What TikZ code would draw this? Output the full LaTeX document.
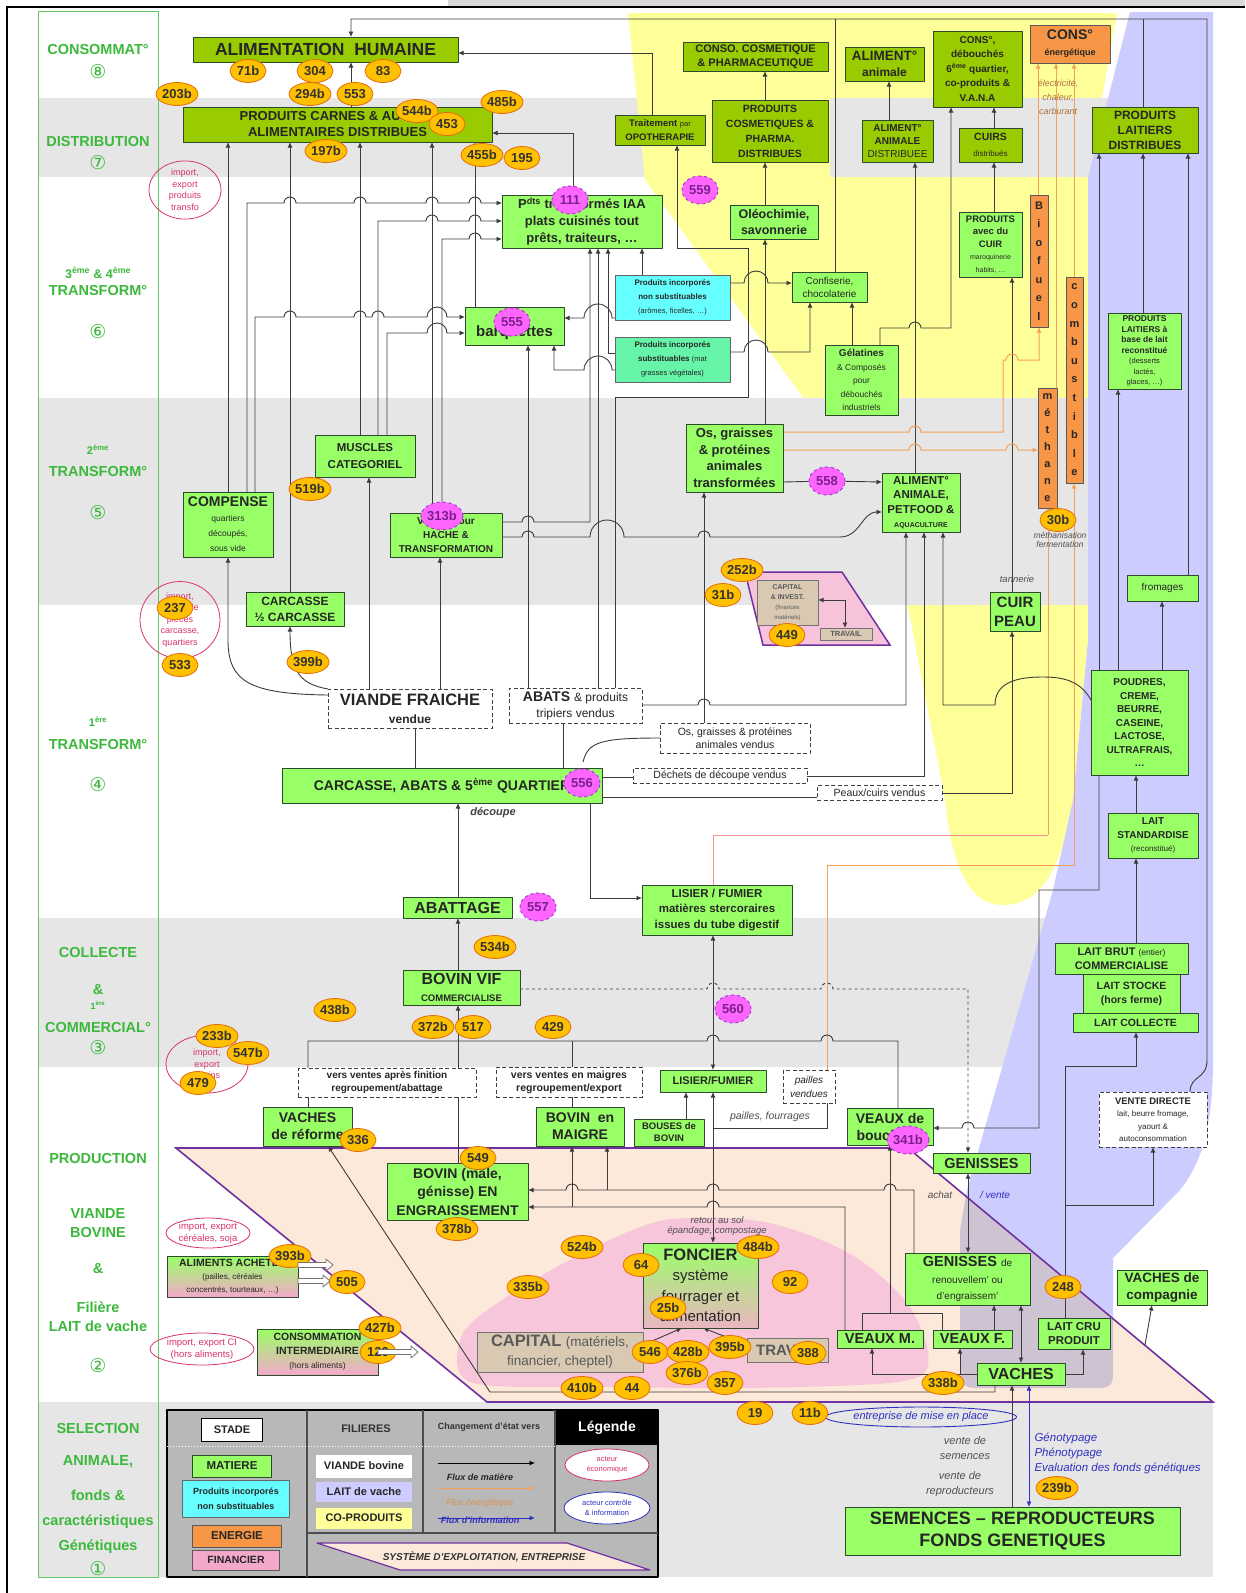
\documentclass[tikz,border=0pt]{standalone}
\usepackage{fontspec}
\setmainfont{Liberation Sans}
\newfontfamily\symfont{DejaVu Sans}
\usetikzlibrary{arrows.meta,shapes.geometric}
\pgfdeclarelayer{bg}
\pgfdeclarelayer{lines}
\pgfsetlayers{bg,lines,main}

\definecolor{matg}{HTML}{99FF66}
\definecolor{distg}{HTML}{99CC00}
\definecolor{bordg}{HTML}{2E4A2E}
\definecolor{enor}{HTML}{F79646}
\definecolor{cyanf}{HTML}{66FFFF}
\definecolor{subf}{HTML}{66F5A8}
\definecolor{tanf}{HTML}{D9C9B3}
\definecolor{pinkf}{HTML}{F4A9CB}
\definecolor{cloudf}{HTML}{F7C6DA}
\definecolor{bubf}{HTML}{FFC000}
\definecolor{bubd}{HTML}{E46C0A}
\definecolor{magf}{HTML}{FF66FF}
\definecolor{magd}{HTML}{9933CC}
\definecolor{magt}{HTML}{7A1F8C}
\definecolor{yelf}{HTML}{FFFF99}
\definecolor{lavf}{HTML}{CCCCFF}
\definecolor{bandg}{HTML}{E6E6E6}
\definecolor{farmf}{HTML}{FDE9D9}
\definecolor{farmd}{HTML}{7030A0}
\definecolor{dairyf}{HTML}{CDC3D3}
\definecolor{lgreen}{HTML}{3CB83C}
\definecolor{impk}{HTML}{D8336B}
\definecolor{lnc}{HTML}{3C3C3C}
\definecolor{orl}{HTML}{F4A259}
\definecolor{pkl}{HTML}{FF9090}
\definecolor{blul}{HTML}{3030C0}
\definecolor{grt}{HTML}{505050}

\newcommand{\fs}[2]{\fontsize{#1}{#2}\selectfont}
\newcommand{\rg}[2]{{\mdseries\fs{#1}{#1}#2}}
% box from its top-left (x1,y1) to bottom-right (x2,y2)
\newcommand{\mkbox}[7]{\node[#6,anchor=north west,minimum width={(#4-#2)*1pt},minimum height={(#5-#3)*1pt}] (#1) at (#2,#3) {#7};}
\newcommand{\bub}[3]{\node[bub] (n#3) at (#1,#2) {#3};}
\newcommand{\mbub}[3]{\node[mag] (m#3) at (#1,#2) {#3};}
% line jumps over a crossing vertical line
\newcommand{\hj}[2]{-- ({#1-6},#2) arc[start angle=180,end angle=360,radius=6]}
\newcommand{\hjl}[2]{-- ({#1+6},#2) arc[start angle=0,end angle=-180,radius=6]}
\newcommand{\hjw}[3]{-- ({#1-#3},#2) arc[start angle=180,end angle=360,radius=#3]}
\newcommand{\hjlw}[3]{-- ({#1+#3},#2) arc[start angle=0,end angle=-180,radius=#3]}
% hollow block arrow
\newcommand{\blk}[3]{\filldraw[fill=white,draw=black!55,line width=0.8pt] (#1,{#3-2.5}) -- ({#2-7},{#3-2.5}) -- ({#2-7},{#3-6}) -- (#2,#3) -- ({#2-7},{#3+6}) -- ({#2-7},{#3+2.5}) -- (#1,{#3+2.5}) -- cycle;}
% coloured zones
\newcommand{\yelpath}{(628,13) -- (1117,13) -- (1088,177) -- (1088,640) -- (1073,800) .. controls (1062,870) and (1040,905) .. (1003,905) .. controls (968,905) and (952,865) .. (945,800) -- (908,607) -- (805,400) -- (645,180) -- cycle}
\newcommand{\lavpath}{(1130,12) -- (1213,12) -- (1213,1060) .. controls (1213,1130) and (1200,1165) .. (1180,1190) -- (1113,1258) -- (1113,1375) .. controls (1113,1385) and (1108,1388) .. (1100,1388) -- (975,1388) .. controls (965,1388) and (960,1383) .. (960,1375) -- (960,1230) -- (967,1190) -- (1053,890) -- (1073,800) -- (1088,640) -- (1088,177) -- cycle}
\newcommand{\farmpath}{(176,1148) -- (908,1148) -- (1213,1402) -- (487,1402) -- cycle}

\tikzset{
  bx/.style={draw=bordg,line width=1pt,align=center,inner sep=0.5pt,outer sep=0pt,text=black!85},
  mat/.style={bx,fill=matg},
  dist/.style={bx,fill=distg},
  ener/.style={bx,fill=enor,draw=black!65},
  cyb/.style={bx,fill=cyanf,draw=black!60},
  sbb/.style={bx,fill=subf,draw=black!60},
  tanb/.style={bx,fill=tanf,draw=black!55,text=black!65},
  dsh/.style={bx,fill=white,draw=black!75,dashed,dash pattern=on 4pt off 2.5pt},
  grad/.style={bx,top color=matg,bottom color=pinkf},
  bub/.style={ellipse,fill=bubf,draw=bubd,line width=0.8pt,inner sep=0pt,minimum width=36pt,minimum height=23pt,font=\fs{13}{14}\bfseries,text=black!80},
  mag/.style={ellipse,fill=magf,draw=magd,dashed,line width=0.9pt,inner sep=0pt,minimum width=36pt,minimum height=28pt,font=\fs{13}{14}\bfseries,text=magt},
  imp/.style={ellipse,draw=impk,line width=0.8pt,text=impk,align=center,inner sep=0pt,font=\fs{9}{11.5}},
  ln/.style={draw=lnc,line width=0.9pt},
  ar/.style={ln,-{Latex[length=5.5pt,width=5pt]}},
  dar/.style={ln,{Latex[length=5.5pt,width=5pt]}-{Latex[length=5.5pt,width=5pt]}},
  oln/.style={draw=orl,line width=1pt},
  oar/.style={oln,-{Latex[length=5.5pt,width=5pt]}},
  lab/.style={text=lgreen,font=\fs{14.5}{16}\bfseries},
  labn/.style={text=lgreen,font=\symfont\fs{19}{20}},
  note/.style={font=\fs{10}{12}\itshape,text=grt,align=center},
}

\begin{document}
\begin{tikzpicture}[x=1pt,y=-1pt,line join=round]
\useasboundingbox (0,0) rectangle (1245,1593);

% ---------- zones ----------
\begin{pgfonlayer}{bg}
\fill[white] (0,0) rectangle (1245,1593);
\fill[yelf] \yelpath;
\fill[bandg] (38,98) rectangle (1213,177);
\fill[bandg] (38,398) rectangle (1213,605);
\fill[bandg] (38,918) rectangle (1213,1067);
\fill[bandg] (38,1402) rectangle (1213,1577);
\begin{scope}\clip (600,98) rectangle (830,177); \fill[yelf] \yelpath; \end{scope}
\fill[lavf] \lavpath;
\fill[farmf] \farmpath;
\begin{scope}\clip \farmpath; \fill[dairyf] \lavpath; \end{scope}
\fill[cloudf] plot[smooth cycle] coordinates {(470,1382) (462,1335) (505,1298) (585,1252) (665,1220) (765,1222) (852,1255) (912,1310) (922,1375) (800,1387) (600,1387)};
\draw[farmd,line width=1.6pt] \farmpath;
\filldraw[fill=pinkf!70,draw=farmd,line width=1.5pt] (745,572) -- (842,572) -- (890,645) -- (763,645) -- cycle;
\fill[black!15] (448,0) rectangle (1245,6);
\draw[line width=2pt] (7,1593) -- (7,7) -- (1245,7);
\draw[lgreen!80,line width=1pt] (38,11) rectangle (158,1577);
\end{pgfonlayer}

% ---------- stage column ----------
\node[lab] (lcA1) at (98,50) {CONSOMMAT°};
\node[labn] (lcA2) at (98,72) {⑧};
\node[lab] (lcB1) at (98,142) {DISTRIBUTION};
\node[labn] (lcB2) at (98,163) {⑦};
\node[lab,font=\fs{12.5}{14}\bfseries] (lcC1) at (98,273) {3\textsuperscript{ème} \& 4\textsuperscript{ème}};
\node[lab] (lcC2) at (98,291) {TRANSFORM°};
\node[labn] (lcC3) at (98,332) {⑥};
\node[lab,font=\fs{11}{12}\bfseries] (lcD1) at (98,450) {2\textsuperscript{ème}};
\node[lab] (lcD2) at (98,472) {TRANSFORM°};
\node[labn] (lcD3) at (98,513) {⑤};
\node[lab,font=\fs{11}{12}\bfseries] (lcE1) at (98,722) {1\textsuperscript{ère}};
\node[lab] (lcE2) at (98,744) {TRANSFORM°};
\node[labn] (lcE3) at (98,785) {④};
\node[lab] (lcF1) at (98,952) {COLLECTE};
\node[lab] (lcF2) at (98,990) {\&};
\node[lab,font=\fs{9}{10}\bfseries] (lcF3) at (98,1005) {1\textsuperscript{ère}};
\node[lab] (lcF4) at (98,1027) {COMMERCIAL°};
\node[labn] (lcF5) at (98,1048) {③};
\node[lab] (lcG1) at (98,1158) {PRODUCTION};
\node[lab] (lcG2) at (98,1213) {VIANDE};
\node[lab] (lcG3) at (98,1232) {BOVINE};
\node[lab] (lcG4) at (98,1269) {\&};
\node[lab] (lcG5) at (98,1307) {Filière};
\node[lab] (lcG6) at (98,1326) {LAIT de vache};
\node[labn] (lcG7) at (98,1366) {②};
\node[lab] (lcH1) at (98,1428) {SELECTION};
\node[lab] (lcH2) at (98,1462) {ANIMALE,};
\node[lab] (lcH3) at (98,1495) {fonds \&};
\node[lab] (lcH4) at (98,1522) {caractéristiques};
\node[lab] (lcH5) at (98,1547) {Génétiques};
\node[labn] (lcH6) at (98,1569) {①};

% ---------- consumption / distribution ----------
\mkbox{alim}{193}{37}{458}{62}{dist,font=\fs{17.5}{19}\bfseries}{ALIMENTATION\ \ HUMAINE}
\mkbox{conso}{683}{42}{828}{71}{dist,font=\fs{11}{13.5}\bfseries}{CONSO. COSMETIQUE\\\& PHARMACEUTIQUE}
\mkbox{alan}{845}{47}{924}{81}{dist,font=\fs{13.5}{16}\bfseries}{ALIMENT°\\{\fs{12}{12}animale}}
\mkbox{consd}{933}{31}{1022}{107}{dist,font=\fs{10}{14.5}\bfseries}{CONS°,\\débouchés\\6\textsuperscript{ème} quartier,\\co-produits \&\\V.A.N.A}
\mkbox{conse}{1030}{25}{1110}{63}{ener,font=\fs{14}{16}\bfseries}{CONS°\\{\fs{9}{9}énergétique}}
\mkbox{pld}{1092}{107}{1198}{153}{dist,font=\fs{12}{15}\bfseries}{PRODUITS\\LAITIERS\\DISTRIBUES}
\mkbox{pcad}{183}{107}{492}{142}{dist,font=\fs{13}{16}\bfseries}{PRODUITS CARNES \& AUTRES\\ALIMENTAIRES DISTRIBUES}
\mkbox{opo}{615}{115}{705}{145}{dist,font=\fs{9.5}{13.5}\bfseries}{Traitement \rg{7.5}{par}\\OPOTHERAPIE}
\mkbox{pcos}{712}{100}{828}{162}{dist,font=\fs{10.5}{15}\bfseries}{PRODUITS\\COSMETIQUES \&\\PHARMA.\\DISTRIBUES}
\mkbox{aland}{862}{120}{933}{162}{dist,font=\fs{10}{13}\bfseries}{ALIMENT°\\ANIMALE\\{\mdseries DISTRIBUEE}}
\mkbox{cuirs}{959}{128}{1022}{162}{dist,font=\fs{10.5}{16}\bfseries}{CUIRS\\\rg{8}{distribués}}

% ---------- 3rd & 4th processing ----------
\mkbox{pdts}{502}{195}{662}{248}{mat,font=\fs{13}{17}\bfseries}{P\textsuperscript{dts} transformés IAA\\plats cuisinés tout\\prêts, traiteurs, …}
\mkbox{barq}{465}{307}{564}{345}{mat,font=\fs{15}{17}\bfseries}{\phantom{x}\\barquettes}
\mkbox{cyan}{615}{275}{730}{320}{cyb,font=\fs{8}{14}\bfseries}{Produits incorporés\\non substituables\\\rg{7.5}{(arômes, ficelles, …)}}
\mkbox{subst}{615}{337}{730}{382}{sbb,font=\fs{8}{14}\bfseries}{Produits incorporés\\substituables \rg{7.5}{(mat}\\\rg{7.5}{grasses végétales)}}
\mkbox{oleo}{730}{205}{818}{239}{mat,font=\fs{12.5}{16}\bfseries}{Oléochimie,\\savonnerie}
\mkbox{conf}{792}{272}{867}{302}{mat,font=\fs{10}{13}}{Confiserie,\\chocolaterie}
\mkbox{gela}{825}{345}{898}{415}{mat,font=\fs{10}{13.5}\bfseries}{Gélatines\\\rg{8.5}{\& Composés}\\\rg{8.5}{pour}\\\rg{8.5}{débouchés}\\\rg{8.5}{industriels}}
\mkbox{pcuir}{959}{212}{1022}{277}{mat,font=\fs{9.5}{12.5}\bfseries}{PRODUITS\\avec du\\CUIR\\\rg{7}{maroquinerie}\\\rg{7}{habits, …}}
\mkbox{biof}{1030}{195}{1048}{327}{ener,font=\fs{11}{18.5}\bfseries}{B\\i\\o\\f\\u\\e\\l}
\mkbox{comb}{1066}{277}{1083}{483}{ener,font=\fs{11}{18.6}\bfseries}{c\\o\\m\\b\\u\\s\\t\\i\\b\\l\\e}
\mkbox{meth}{1038}{388}{1057}{508}{ener,font=\fs{11}{17}\bfseries}{m\\é\\t\\h\\a\\n\\e}
\mkbox{plr}{1108}{313}{1181}{389}{mat,font=\fs{8.5}{10.5}\bfseries}{PRODUITS\\LAITIERS à\\base de lait\\reconstitué\\\rg{7.5}{(desserts}\\\rg{7.5}{lactés,}\\\rg{7.5}{glaces, …)}}

% ---------- 2nd processing ----------
\mkbox{muscles}{315}{435}{415}{477}{mat,font=\fs{11.5}{17}\bfseries}{MUSCLES\\CATEGORIEL}
\mkbox{comp}{183}{492}{273}{557}{mat,font=\fs{14}{15}\bfseries}{COMPENSE\\\rg{8.5}{quartiers}\\\rg{8.5}{découpés,}\\\rg{8.5}{sous vide}}
\mkbox{carc}{246}{592}{344}{626}{mat,font=\fs{12}{16}\bfseries}{CARCASSE\\½ CARCASSE}
\mkbox{hache}{390}{513}{502}{557}{mat,font=\fs{10}{14}\bfseries}{Viande pour\\HACHE \&\\TRANSFORMATION}
\mkbox{osg}{686}{424}{783}{492}{mat,font=\fs{13}{16.5}\bfseries}{Os, graisses\\\& protéines\\animales\\transformées}
\mkbox{petf}{882}{473}{960}{532}{mat,font=\fs{11.5}{14.5}\bfseries}{ALIMENT°\\ANIMALE,\\PETFOOD \&\\{\fs{7}{7}AQUACULTURE}}
\mkbox{capi}{757}{580}{818}{625}{tanb,font=\fs{7}{10}\bfseries}{CAPITAL\\\& INVEST.\\\rg{6}{(finances}\\\rg{6}{matériels)}}
\mkbox{trav}{820}{628}{872}{640}{tanb,font=\fs{7.5}{8}\bfseries}{TRAVAIL}
\mkbox{cuir}{990}{592}{1040}{631}{mat,font=\fs{15}{19}\bfseries}{CUIR\\PEAU}
\mkbox{fromg}{1127}{575}{1198}{601}{mat,font=\fs{10}{11}}{fromages}
\mkbox{poud}{1091}{670}{1188}{775}{mat,font=\fs{10}{13.5}\bfseries}{POUDRES,\\CREME,\\BEURRE,\\CASEINE,\\LACTOSE,\\ULTRAFRAIS,\\…}

% ---------- 1st processing ----------
\mkbox{vfr}{328}{689}{492}{728}{dsh,font=\fs{16.5}{18}\bfseries}{VIANDE FRAICHE\\{\fs{12}{12}vendue}}
\mkbox{abv}{509}{688}{642}{723}{dsh,font=\fs{14}{16}\bfseries}{ABATS \rg{12}{\& produits}\\\rg{12}{tripiers vendus}}
\mkbox{osv}{660}{723}{810}{753}{dsh,font=\fs{10.5}{13}}{Os, graisses \& protéines\\animales vendus}
\mkbox{dech}{633}{768}{807}{783}{dsh,font=\fs{10.5}{11}}{Déchets de découpe vendus}
\mkbox{peaux}{817}{785}{942}{800}{dsh,font=\fs{10.5}{11}}{Peaux/cuirs vendus}
\mkbox{carab}{282}{768}{602}{803}{mat,font=\fs{14}{15}\bfseries}{CARCASSE, ABATS \& 5\textsuperscript{ème} QUARTIER}
\mkbox{lstd}{1108}{813}{1198}{858}{mat,font=\fs{10}{13.5}\bfseries}{LAIT\\STANDARDISE\\\rg{8}{(reconstitué)}}

% ---------- slaughter, collection ----------
\mkbox{abat}{403}{897}{512}{918}{mat,font=\fs{16}{17}\bfseries}{ABATTAGE}
\mkbox{lis}{642}{885}{792}{935}{mat,font=\fs{11.5}{15.5}\bfseries}{LISIER / FUMIER\\matières stercoraires\\issues du tube digestif}
\mkbox{bvif}{403}{970}{520}{1005}{mat,font=\fs{16}{17}\bfseries}{BOVIN VIF\\{\fs{9.5}{10}COMMERCIALISE}}
\mkbox{lbrut}{1055}{943}{1188}{974}{mat,font=\fs{11}{14}\bfseries}{LAIT BRUT \rg{8.5}{(entier)}\\COMMERCIALISE}
\mkbox{lstock}{1083}{974}{1180}{1013}{mat,font=\fs{10.5}{14}\bfseries}{LAIT STOCKE\\(hors ferme)}
\mkbox{lcoll}{1073}{1013}{1198}{1032}{mat,font=\fs{10.5}{11}\bfseries}{LAIT COLLECTE}
\mkbox{vvf}{298}{1068}{476}{1097}{dsh,font=\fs{10}{13}\bfseries}{vers ventes après finition\\regroupement/abattage}
\mkbox{vvm}{496}{1067}{642}{1097}{dsh,font=\fs{10.5}{13}\bfseries}{vers ventes en maigres\\regroupement/export}
\mkbox{lis2}{660}{1070}{766}{1092}{mat,font=\fs{11}{12}\bfseries}{LISIER/FUMIER}
\mkbox{pail}{783}{1070}{835}{1103}{dsh,font=\fs{10}{14}\itshape}{pailles\\vendues}
\mkbox{vdir}{1099}{1092}{1207}{1147}{dsh,font=\fs{9.5}{12.5}\bfseries}{VENTE DIRECTE\\\rg{8}{lait, beurre fromage,}\\\rg{8}{yaourt \&}\\\rg{8}{autoconsommation}}

% ---------- production ----------
\mkbox{vref}{263}{1107}{352}{1146}{mat,font=\fs{14}{17}\bfseries}{VACHES\\de réforme}
\mkbox{maig}{536}{1107}{624}{1146}{mat,font=\fs{14}{17}\bfseries}{BOVIN\ \ en\\MAIGRE}
\mkbox{bous}{634}{1119}{704}{1146}{mat,font=\fs{9.5}{12}\bfseries}{BOUSES de\\BOVIN}
\mkbox{veb}{847}{1108}{933}{1145}{mat,font=\fs{14}{17}\bfseries}{VEAUX de\\boucherie}
\mkbox{gen1}{933}{1153}{1030}{1173}{mat,font=\fs{14.5}{15}\bfseries}{GENISSES}
\mkbox{engr}{387}{1163}{528}{1220}{mat,font=\fs{14}{18.5}\bfseries}{BOVIN (mâle,\\génisse) EN\\ENGRAISSEMENT}
\mkbox{alach}{167}{1256}{298}{1297}{grad,font=\fs{10.5}{13}\bfseries}{ALIMENTS ACHETES\\\rg{8}{(pailles, céréales}\\\rg{8}{concentrés, tourteaux, …)}}
\mkbox{cinter}{257}{1329}{378}{1375}{grad,font=\fs{10.5}{14}\bfseries}{CONSOMMATION\\INTERMEDIAIRE\\\rg{8.5}{(hors aliments)}}
\mkbox{fonc}{643}{1243}{758}{1328}{grad,bottom color=pinkf!60!tanf,font=\fs{15}{20.5}}{\textbf{\fs{16.5}{16.5}FONCIER}\\système\\fourrager et\\alimentation}
\mkbox{capf}{477}{1332}{643}{1372}{tanb,font=\fs{16.5}{19}\bfseries}{CAPITAL \rg{13.5}{(matériels,}\\\rg{13.5}{financier, cheptel)}}
\mkbox{travf}{747}{1338}{828}{1362}{tanb,font=\fs{15}{16}\bfseries}{TRAVAIL}
\mkbox{gen2}{905}{1253}{1030}{1305}{mat,font=\fs{14.5}{16.5}\bfseries}{GENISSES \rg{10}{de}\\\rg{10}{renouvellem' ou}\\\rg{10}{d'engraissem'}}
\mkbox{vm}{837}{1330}{923}{1348}{mat,font=\fs{14.5}{15}\bfseries}{VEAUX M.}
\mkbox{vf}{933}{1330}{1012}{1348}{mat,font=\fs{14.5}{15}\bfseries}{VEAUX F.}
\mkbox{lcru}{1038}{1318}{1110}{1349}{mat,font=\fs{11.5}{14}\bfseries}{LAIT CRU\\PRODUIT}
\mkbox{vach}{977}{1363}{1065}{1385}{mat,font=\fs{16}{17}\bfseries}{VACHES}
\mkbox{vcomp}{1117}{1270}{1207}{1305}{mat,font=\fs{13.5}{16.5}\bfseries}{VACHES de\\compagnie}
\mkbox{sem}{845}{1507}{1180}{1555}{mat,font=\fs{18}{22}\bfseries}{SEMENCES -- REPRODUCTEURS\\FONDS GENETIQUES}

% ---------- trade ellipses ----------
\node[imp,minimum width=72pt,minimum height=56pt] (e1) at (185,190) {import,\\export\\produits\\transfo};
\node[imp,minimum width=80pt,minimum height=76pt] (e2) at (180,620) {import,\\export de\\pièces\\carcasse,\\quartiers};
\node[imp,minimum width=82pt,minimum height=58pt] (e3) at (207,1064) {import,\\export\\bovins};
\node[imp,minimum width=84pt,minimum height=30pt,font=\fs{9.5}{12}] (e4) at (208,1233) {import, export\\céréales, soja};
\node[imp,minimum width=104pt,minimum height=32pt,font=\fs{9.5}{12}] (e5) at (202,1349) {import, export CI\\(hors aliments)};
\node[ellipse,draw=blul,line width=0.9pt,text=blul,inner sep=0pt,minimum width=168pt,minimum height=20pt,font=\fs{11}{12}\itshape] (emp) at (921,1417) {entreprise de mise en place};

% ---------- notes ----------
\node[font=\fs{11}{12}\bfseries\itshape,text=black!75] (tdec) at (493,813) {découpe};
\node[note,text=orl!70!black,font=\fs{9}{14}\itshape] (tenr) at (1058,97) {électricité,\\chaleur,\\carburant};
\node[note,font=\fs{9.5}{10}\itshape] (ttan) at (1017,579) {tannerie};
\node[note,font=\fs{8.5}{9.5}\itshape] (tmeth) at (1060,540) {méthanisation\\fermentation};
\node[note,font=\fs{10.5}{12}\itshape] (tpail) at (770,1117) {pailles, fourrages};
\node[note,font=\fs{9.5}{10}\itshape] (tret) at (717,1226) {retour au sol\\épandage, compostage};
\node[note,font=\fs{10}{11}\itshape] (tach) at (940,1195) {achat};
\node[note,text=blul,font=\fs{10}{11}\itshape] (tven) at (995,1195) {/ vente};
\node[note,font=\fs{11}{15.5}\itshape,align=center] (tsem) at (965,1448) {vente de\\semences};
\node[note,font=\fs{11}{15.5}\itshape,align=center] (trep) at (960,1484) {vente de\\reproducteurs};
\node[note,text=blul,font=\fs{11.5}{15}\itshape,align=left,anchor=west] (tgen) at (1031,1453) {Génotypage\\Phénotypage\\Evaluation des fonds génétiques};

% ---------- legend ----------
\filldraw[fill=black!28,draw=black,line width=2.2pt] (167,1410) rectangle (658,1577);
\fill[black] (555,1410) rectangle (658,1445);
\draw[black!70,line width=1.4pt] (307,1410) -- (307,1577) (423,1410) -- (423,1533) (555,1410) -- (555,1533) (307,1533) -- (658,1533);
\draw[white,line width=1pt,dotted] (167,1446) -- (555,1446);
\node[bx,fill=white,draw=black,minimum width=61pt,minimum height=23pt,font=\fs{11}{12}\bfseries] (lgst) at (232,1430) {STADE};
\node[font=\fs{11}{12}\bfseries,text=black!80] (lgfi) at (366,1429) {FILIERES};
\node[font=\fs{9}{10}\bfseries,text=black!80] (lgch) at (489,1427) {Changement d'état vers};
\node[text=white,font=\fs{14}{15}\bfseries] (lgle) at (607,1428) {Légende};
\node[mat,minimum width=79pt,minimum height=22pt,font=\fs{11.5}{12}\bfseries] (lgma) at (232,1466) {MATIERE};
\node[cyb,minimum width=107pt,minimum height=37pt,font=\fs{9}{15}\bfseries] (lgpi) at (236,1499) {Produits incorporés\\non substituables};
\node[ener,minimum width=89pt,minimum height=22pt,font=\fs{11.5}{12}\bfseries] (lgen) at (237,1536) {ENERGIE};
\node[bx,fill=pinkf,draw=black!65,minimum width=87pt,minimum height=20pt,font=\fs{10.5}{11}\bfseries] (lgfn) at (236,1560) {FINANCIER};
\node[bx,fill=white,draw=white,minimum width=95pt,minimum height=22pt,font=\fs{11}{12}\bfseries] (lgvi) at (364,1466) {VIANDE bovine};
\node[bx,fill=lavf,draw=lavf,minimum width=95pt,minimum height=19pt,font=\fs{11}{12}\bfseries] (lgla) at (364,1492) {LAIT de vache};
\node[bx,fill=yelf,draw=yelf,minimum width=95pt,minimum height=20pt,font=\fs{11}{12}\bfseries] (lgco) at (364,1518) {CO-PRODUITS};
\coordinate (lgf1a) at (438,1463); \coordinate (lgf1b) at (535,1463);
\coordinate (lgf2a) at (438,1488); \coordinate (lgf2b) at (535,1488);
\coordinate (lgf3a) at (438,1518); \coordinate (lgf3b) at (535,1518);
\draw[ar,draw=black] (lgf1a) -- (lgf1b);
\node[font=\fs{9}{10}\bfseries\itshape,text=black!85] (lgt1) at (480,1477) {Flux de matière};
\draw[oar] (lgf2a) -- (lgf2b);
\node[font=\fs{9}{10}\itshape,text=orl!90!black] (lgt2) at (480,1503) {Flux énergétique};
\draw[ln,draw=blul,-{Latex[length=5.5pt,width=5pt]}] (lgf3a) -- (lgf3b);
\node[font=\fs{9}{10}\bfseries\itshape,text=blul] (lgt3) at (480,1520) {Flux d'information};
\node[ellipse,draw=impk,fill=white,line width=0.8pt,minimum width=84pt,minimum height=32pt,inner sep=0pt,text=impk,align=center,font=\fs{7.5}{10}] (lgac) at (607,1465) {acteur\\économique};
\node[ellipse,draw=blul,fill=white,line width=0.8pt,minimum width=86pt,minimum height=32pt,inner sep=0pt,text=blul,align=center,font=\fs{7.5}{10}] (lgcl) at (607,1508) {acteur contrôle\\\& information};
\filldraw[fill=farmf,draw=farmd,line width=1.2pt] (317,1543) -- (567,1543) -- (650,1570) -- (400,1570) -- cycle;
\node[font=\fs{10}{11}\bfseries\itshape,text=black!80] (lgsy) at (484,1557) {SYSTÈME D'EXPLOITATION, ENTREPRISE};

% ---------- bubbles ----------
\bub{248}{71}{71b} \bub{315}{71}{304} \bub{383}{71}{83}
\bub{177}{94}{203b} \bub{310}{94}{294b} \bub{355}{94}{553}
\bub{417}{111}{544b} \bub{447}{124}{453} \bub{502}{102}{485b}
\bub{326}{151}{197b} \bub{482}{155}{455b} \bub{522}{158}{195}
\bub{310}{489}{519b} \bub{308}{662}{399b}
\bub{175}{608}{237} \bub{180}{665}{533}
\bub{742}{570}{252b} \bub{723}{595}{31b} \bub{787}{635}{449}
\bub{1058}{520}{30b}
\bub{495}{947}{534b} \bub{433}{1027}{372b} \bub{473}{1027}{517} \bub{553}{1027}{429} \bub{335}{1010}{438b}
\bub{217}{1036}{233b} \bub{248}{1053}{547b} \bub{198}{1083}{479}
\bub{358}{1140}{336} \bub{478}{1158}{549} \bub{457}{1229}{378b}
\bub{290}{1256}{393b} \bub{347}{1282}{505} \bub{380}{1328}{427b} \bub{378}{1352}{120}
\bub{582}{1247}{524b} \bub{528}{1287}{335b} \bub{641}{1265}{64} \bub{758}{1247}{484b}
\bub{668}{1308}{25b} \bub{790}{1282}{92}
\bub{650}{1352}{546} \bub{688}{1352}{428b} \bub{730}{1347}{395b} \bub{808}{1353}{388}
\bub{687}{1373}{376b} \bub{725}{1383}{357} \bub{582}{1388}{410b} \bub{632}{1388}{44}
\bub{755}{1413}{19} \bub{810}{1413}{11b} \bub{943}{1383}{338b} \bub{1063}{1287}{248} \bub{1057}{1488}{239b}
\mbub{570}{200}{111} \mbub{512}{322}{555} \mbub{700}{190}{559} \mbub{442}{516}{313b}
\mbub{827}{481}{558} \mbub{582}{783}{556} \mbub{538}{907}{557} \mbub{733}{1009}{560} \mbub{908}{1140}{341b}

% ---------- free ends ----------
\coordinate (vcs) at (1145,1345);

% ---------- connectors ----------
\begin{pgfonlayer}{lines}
% towards human food
\draw[ar] (351,0|-pcad.north) -- (351,0|-alim.south);
\draw[ar] (1190,0|-vdir.north) .. controls (1190,1075) and (1207,1080) .. (1207,1060) -- (1207,19) -- (351,19) -- (351,0|-alim.north);
\draw[ln] (1143,0|-pld.north) -- (1143,19);
\draw[ln] (835,0|-conf.north) -- (835,19);
\draw[ar] (652,0|-opo.north) -- (652,53) -- (alim.east|-0,53);
% distributed products
\draw[ar] (228,0|-comp.north) -- (228,0|-pcad.south);
\draw[ar] (290,0|-carc.north) -- (290,0|-pcad.south);
\draw[ar] (360,0|-muscles.north) -- (360,0|-pcad.south);
\draw[ar] (432,0|-hache.north) -- (432,0|-pcad.south);
\draw[ar] (475,0|-barq.north) -- (475,0|-pcad.south);
\draw[ar] (573,0|-pdts.north) -- (573,133) -- (pcad.east|-0,133);
% towards processed products and trays
\draw[ar] (247,0|-comp.north) -- (247,203) \hj{290}{203} \hj{360}{203} \hj{432}{203} \hj{475}{203} -- (pdts.west|-0,203);
\draw[ar] (378,0|-muscles.north) -- (378,221) \hj{432}{221} \hj{475}{221} -- (pdts.west|-0,221);
\draw[ar] (442,0|-hache.north) -- (442,239) \hj{475}{239} -- (pdts.west|-0,239);
\draw[ar] (255,0|-comp.north) -- (255,317) \hj{290}{317} \hj{360}{317} \hj{378}{317} \hjw{437}{317}{10} -- (barq.west|-0,317);
\draw[ar] (387,0|-muscles.north) -- (387,333) \hjw{437}{333}{10} -- (barq.west|-0,333);
\draw[ar] (hache.east|-0,522) \hj{528}{522} -- (590,522) -- (590,0|-pdts.south);
\draw[ar] (598,0|-abv.north) -- (598,0|-pdts.south);
\draw[ar] (528,0|-abv.north) -- (528,0|-barq.south);
\draw[ar] (subst.west|-0,353) -- (608,353) -- (608,0|-pdts.south);
\draw[ar] (642,0|-cyan.north) -- (642,0|-pdts.south);
\draw[ar] (cyan.west|-0,318) \hjlw{598}{318}{14} -- (barq.east|-0,318);
\draw[ar] (subst.west|-0,370) \hjlw{598}{370}{14} -- (554,370) -- (554,0|-barq.south);
\draw[ar] (cyan.east|-0,283) \hjw{756}{283}{12} -- (conf.west|-0,283);
\draw[ar] (subst.east|-0,352) \hjw{756}{352}{12} -- (810,352) -- (810,0|-conf.south);
\draw[ar] (615,0|-abv.north) -- (615,397) -- (748,397) -- (748,248) -- (677,248) -- (677,0|-opo.south);
% co-products
\draw[ar] (765,0|-pcos.north) -- (765,0|-conso.south);
\draw[ar] (765,0|-oleo.north) -- (765,0|-pcos.south);
\draw[ar] (765,0|-osg.north) -- (765,0|-oleo.south);
\draw[ar] (889,0|-aland.north) -- (889,0|-alan.south);
\draw[ar] (915,0|-petf.north) -- (915,0|-aland.south);
\draw[ar] (994,0|-cuirs.north) -- (994,0|-consd.south);
\draw[ar] (994,0|-pcuir.north) -- (994,0|-cuirs.south);
\draw[ar] (1012,0|-cuir.north) -- (1012,0|-pcuir.south);
\draw[ar] (880,0|-gela.north) -- (880,328) \hj{915}{328} -- (951,328) -- (951,0|-consd.south);
\draw[ar] (852,0|-gela.north) -- (852,0|-conf.south);
\draw[dar] (capi.east|-0,600) -- (845,600) -- (845,0|-trav.north);
% energy
\draw[oar] (1038,0|-biof.north) -- (1038,0|-conse.south);
\draw[oar] (1056,0|-meth.north) -- (1056,0|-conse.south);
\draw[oar] (1074,0|-comb.north) -- (1074,0|-conse.south);
\draw[oar] (osg.east|-0,432) \hj{915}{432} -- (1003,432) -- (1003,360) \hj{1012}{360} -- (1039,360) -- (1039,0|-biof.south);
\draw[oar] (osg.east|-0,450) \hj{915}{450} \hj{1012}{450} -- (meth.west|-0,450);
\draw[draw=pkl,line width=1pt] (713,0|-lis.north) -- (713,835) -- (1048,835);
\draw[oar] (1048,835) -- (1048,0|-meth.south);
\draw[oar] (827,0|-pail.north) -- (827,865) -- (1074,865) -- (1074,0|-comb.south);
% dairy
\draw[ar] (1099,0|-poud.north) -- (1099,0|-pld.south);
\draw[ar] (1188,0|-fromg.north) -- (1188,0|-pld.south);
\draw[ar] (1143,0|-plr.north) -- (1143,0|-pld.south);
\draw[ar] (1118,0|-poud.north) -- (1118,0|-plr.south);
\draw[ar] (1162,0|-poud.north) -- (1162,0|-fromg.south);
\draw[ar] (1136,0|-lstd.north) -- (1136,0|-poud.south);
\draw[ar] (1136,0|-lbrut.north) -- (1136,0|-lstd.south);
\draw[ar] (1099,0|-poud.south) -- (1099,890) -- (1039,890) -- (1039,1128) \hjl{968}{1128} -- (veb.east|-0,1128);
\draw[ar] (1065,0|-lcru.north) -- (1065,1066) -- (1136,1066) -- (1136,0|-lcoll.south);
\draw[ar] (1065,1205) -- (1153,1205) -- (1153,0|-vdir.south);
% animal feed
\draw[ln] (osg.east|-0,482) -- (m558);
\draw[ar] (m558) -- (petf.west|-0,482);
\draw[ar] (hache.east|-0,537) \hj{528}{537} \hjw{607}{537}{17} \hj{704}{537} -- (840,537) .. controls (860,537) and (862,512) .. (petf.west|-0,512);
\draw[ar] (abv.east|-0,705) \hj{704}{705} -- (906,705) -- (906,0|-petf.south);
\draw[ar] (dech.east|-0,776) -- (924,776) -- (924,0|-petf.south);
\draw[ar] (poud.west|-0,700) .. controls (1080,680) and (1062,677) .. (1042,677) .. controls (1012,677) and (995,685) .. (995,705) -- (943,705) -- (943,0|-petf.south);
\draw[ar] (704,0|-osv.north) -- (704,0|-osg.south);
\draw[ar] (peaux.east|-0,793) -- (1012,793) -- (1012,0|-cuir.south);
% first processing
\draw[ar] (369,0|-vfr.north) -- (369,0|-muscles.south);
\draw[ar] (440,0|-vfr.north) -- (440,0|-hache.south);
\draw[ar] (vfr.west|-0,695) .. controls (250,694) and (228,682) .. (228,640) -- (228,0|-comp.south);
\draw[ar] (vfr.north west) .. controls (300,684) and (290,672) .. (290,0|-carc.south);
\draw[ln] (415,0|-carab.north) -- (415,0|-vfr.south);
\draw[ln] (563,0|-carab.north) -- (563,0|-abv.south);
\draw[ln] (carab.east|-0,777) -- (dech.west|-0,777);
\draw[ln] (carab.east|-0,797) -- (peaux.west|-0,797);
\draw[ln] (583,762) .. controls (588,742) and (600,738) .. (osv.west|-0,738);
\draw[ar] (590,0|-carab.south) -- (590,898) -- (lis.west|-0,898);
\draw[ar] (458,0|-abat.north) -- (458,0|-carab.south);
\draw[ar] (458,0|-bvif.north) -- (458,0|-abat.south);
% collection
\draw[ln] (898,0|-veb.north) -- (898,1041) \hjl{827}{1041} \hjl{713}{1041} -- (308,1041) -- (308,0|-vvf.north);
\draw[ar] (458,1041) -- (458,0|-bvif.south);
\draw[ln] (458,0|-vvf.north) -- (458,1041);
\draw[ln] (572,0|-vvm.north) -- (572,1041);
\draw[ln] (308,0|-vref.north) -- (308,0|-vvf.south);
\draw[ln] (458,0|-engr.north) -- (458,0|-vvf.south);
\draw[ln] (572,0|-maig.north) -- (572,0|-vvm.south);
\draw[ar,dashed] (bvif.east|-0,989) \hj{713}{989} \hj{827}{989} -- (968,989) -- (968,0|-gen1.north);
\draw[dar] (713,0|-lis.south) -- (713,0|-lis2.north);
\draw[ar] (686,0|-bous.north) -- (686,0|-lis2.south);
\draw[dar] (713,0|-lis2.south) -- (713,0|-fonc.north);
\draw[ln] (713,1128) -- (827,1128) -- (827,0|-pail.south);
% herd
\draw[ar] (vach.west|-0,1374) -- (872,1374) -- (872,0|-vm.south);
\draw[ar] (960,1374) -- (960,0|-vf.south);
\draw[ar] (994,0|-vf.north) -- (994,0|-gen2.south);
\draw[dar] (1021,0|-vach.north) -- (1021,0|-gen2.south);
\draw[ar] (vach.east|-0,1374) -- (1083,1374) -- (1083,0|-lcru.south);
\draw[ar] (1012,0|-sem.north) -- (1012,0|-vach.south);
\draw[ln,draw=blul,{Latex[length=5.5pt,width=5pt]}-{Latex[length=5.5pt,width=5pt]}] (1029,0|-vach.south) -- (1029,0|-sem.north);
\draw[ar] (995,0|-vach.south) -- (995,1392) -- (490,1392) -- (328,0|-vref.south);
\draw[ln] (862,0|-vm.north) -- (862,1313) -- (942,1313) -- (942,0|-vf.north);
\draw[ar] (890,1313) -- (890,0|-veb.south);
\draw[ar] (914,0|-gen2.north) -- (914,1190) \hjl{890}{1190} \hjl{713}{1190} \hjl{572}{1190} -- (engr.east|-0,1190);
\draw[ar] (607,1190) -- (607,0|-maig.south);
\draw[ar] (845,0|-vm.north) -- (845,1207) \hjl{713}{1207} -- (engr.east|-0,1207);
\draw[ar] (572,1207) -- (572,0|-maig.south);
\draw[dar] (968,0|-gen1.south) -- (968,0|-gen2.north);
\draw[ar] (vcs) -- (1152,0|-vcomp.south);
\draw[ar] (capf.east|-0,1345) -- (682,0|-fonc.south);
\draw[ar] (travf.west|-0,1345) -- (703,0|-fonc.south);
\end{pgfonlayer}

% inputs bought outside the farm
\blk{298}{333}{1265}
\blk{298}{330}{1281}
\blk{378}{418}{1352}
\end{tikzpicture}
\end{document}
